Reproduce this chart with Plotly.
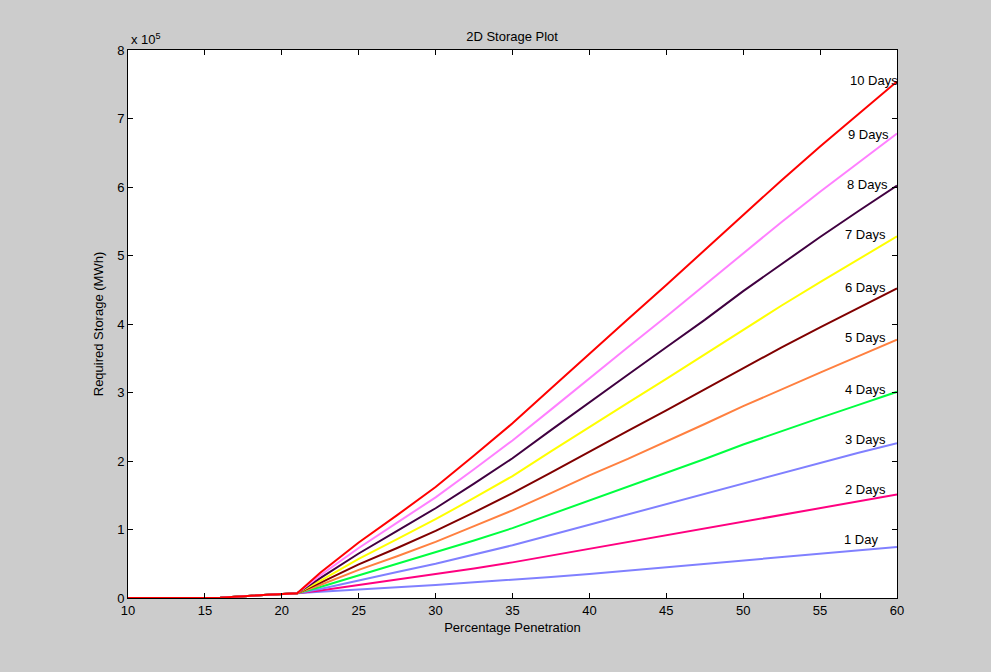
import plotly.graph_objects as go

# Percentage penetration (x) and required storage in units of 1e5 MWh
x_pre = [10, 11, 12, 13, 14, 15, 16, 17, 18, 19, 20]
y_pre = [0, 0, 0, 0, 0, 0, 0.005, 0.02, 0.03, 0.04, 0.05]

x_main = [21, 22.5, 25, 27.5, 30, 32.5, 35, 37.5, 40, 42.5, 45, 47.5, 50, 52.5, 55, 57.5, 60]

day1 = [0.07, 0.09, 0.12, 0.155, 0.19, 0.23, 0.265, 0.305, 0.35, 0.40, 0.45, 0.50, 0.55, 0.60, 0.645, 0.70, 0.745]
day2 = [0.07, 0.11, 0.19, 0.27, 0.34, 0.43, 0.52, 0.62, 0.72, 0.81, 0.91, 1.02, 1.12, 1.22, 1.32, 1.41, 1.51]
day3 = [0.07, 0.13, 0.26, 0.38, 0.50, 0.63, 0.77, 0.92, 1.07, 1.22, 1.37, 1.52, 1.68, 1.83, 1.97, 2.12, 2.26]
day4 = [0.07, 0.16, 0.33, 0.50, 0.66, 0.84, 1.02, 1.22, 1.43, 1.63, 1.83, 2.03, 2.24, 2.44, 2.63, 2.82, 3.01]
day5 = [0.07, 0.19, 0.41, 0.61, 0.82, 1.05, 1.28, 1.53, 1.79, 2.03, 2.28, 2.54, 2.80, 3.05, 3.29, 3.53, 3.77]
day6 = [0.07, 0.22, 0.49, 0.73, 0.98, 1.25, 1.53, 1.83, 2.14, 2.44, 2.74, 3.05, 3.36, 3.66, 3.95, 4.24, 4.52]
day7 = [0.07, 0.25, 0.57, 0.86, 1.15, 1.46, 1.78, 2.14, 2.50, 2.85, 3.20, 3.56, 3.92, 4.27, 4.61, 4.94, 5.28]
day8 = [0.07, 0.29, 0.65, 0.98, 1.31, 1.67, 2.04, 2.45, 2.86, 3.26, 3.66, 4.06, 4.48, 4.88, 5.27, 5.65, 6.02]
day9 = [0.07, 0.33, 0.73, 1.10, 1.47, 1.88, 2.30, 2.75, 3.21, 3.66, 4.11, 4.57, 5.04, 5.49, 5.93, 6.36, 6.78]
day10 = [0.07, 0.37, 0.81, 1.21, 1.62, 2.08, 2.55, 3.06, 3.57, 4.07, 4.57, 5.08, 5.60, 6.10, 6.59, 7.06, 7.54]

series = [day1, day2, day3, day4, day5, day6, day7, day8, day9, day10]
labels = ["1 Day", "2 Days", "3 Days", "4 Days", "5 Days",
          "6 Days", "7 Days", "8 Days", "9 Days", "10 Days"]
colors = ["#8080ff", "#ff0080", "#8080ff", "#00ff40", "#ff8040",
          "#800000", "#ffff00", "#400040", "#ff80ff", "#ff0000"]

x_ticks = [10, 15, 20, 25, 30, 35, 40, 45, 50, 55, 60]
y_ticks = [0, 1, 2, 3, 4, 5, 6, 7, 8]

# text label placement (annotation positions, not data)
label_x = [56.4, 56.5, 56.5, 56.5, 56.5, 56.5, 56.5, 56.6, 56.7, 56.8]
label_y = [0.86, 1.59, 2.32, 3.04, 3.81, 4.54, 5.30, 6.04, 6.77, 7.55]

font = "Liberation Sans, Arial, Helvetica, sans-serif"
fs = 13

fig = go.Figure()
for vals, name, col in zip(series, labels, colors):
    fig.add_trace(go.Scatter(
        x=x_pre + x_main, y=y_pre + vals, mode="lines", name=name,
        line=dict(color=col, width=2), showlegend=False, hoverinfo="skip"))

for lx, ly, txt in zip(label_x, label_y, labels):
    fig.add_annotation(x=lx, y=ly, text=txt, showarrow=False,
                       xanchor="left", yanchor="middle",
                       font=dict(family=font, size=fs, color="black"))

fig.add_annotation(xref="paper", yref="paper", x=0, y=1, xanchor="left",
                   yanchor="bottom", yshift=1, xshift=1,
                   text="x 10<sup>5</sup>", showarrow=False,
                   font=dict(family=font, size=fs, color="black"))

axis_common = dict(showline=True, linecolor="black", linewidth=1, mirror="ticks",
                   ticks="inside", ticklen=5, tickcolor="black", showgrid=False,
                   zeroline=False, tickfont=dict(family=font, size=fs, color="black"))

fig.update_layout(
    width=991, height=672,
    paper_bgcolor="#cccccc", plot_bgcolor="white",
    margin=dict(l=128, r=94, t=50, b=74),
    title=dict(text="2D Storage Plot", x=0.5167, xanchor="center", y=1 - 36/672,
               yanchor="middle", font=dict(family=font, size=fs, color="black")),
    xaxis=dict(range=[10, 60], tickvals=x_ticks, ticktext=[str(t) for t in x_ticks],
               title=dict(text="Percentage Penetration", standoff=6,
                          font=dict(family=font, size=fs, color="black")),
               **axis_common),
    yaxis=dict(range=[0, 8], tickvals=y_ticks, ticktext=[str(t) for t in y_ticks],
               title=dict(text="Required Storage (MWh)", standoff=10,
                          font=dict(family=font, size=fs, color="black")),
               **axis_common),
)

fig.write_html("out.html", config={"displayModeBar": False},
               post_script="document.body.style.margin='0';")
